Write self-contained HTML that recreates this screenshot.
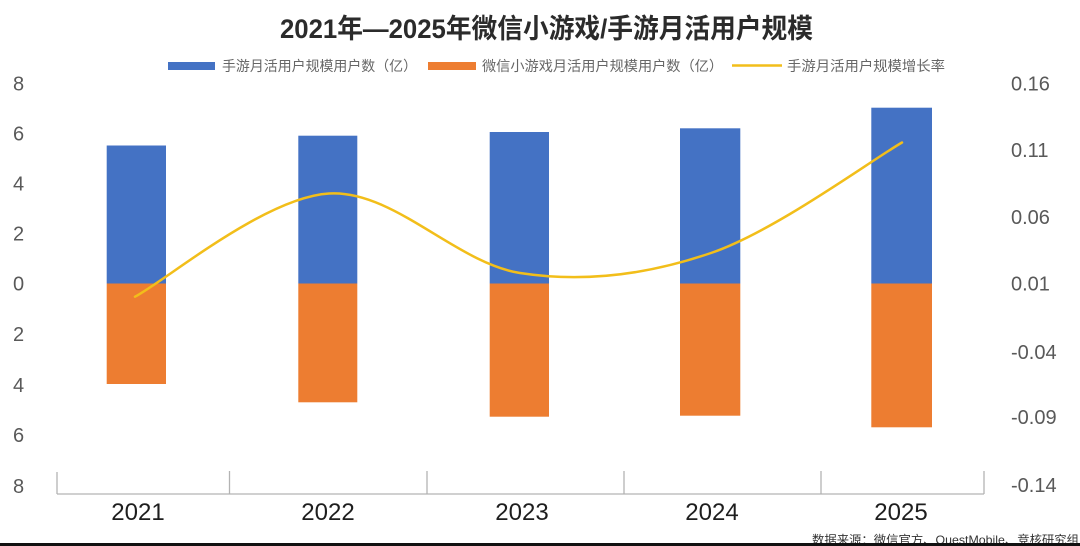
<!DOCTYPE html>
<html>
<head>
<meta charset="utf-8">
<style>
html,body{margin:0;padding:0;background:#fff;}
body{width:1080px;height:546px;overflow:hidden;}
svg{display:block;}
</style>
</head>
<body>
<svg width="1080" height="546" viewBox="0 0 1080 546" xmlns="http://www.w3.org/2000/svg">
<rect x="0" y="0" width="1080" height="546" fill="#ffffff"/>

<!-- Title -->
<text x="280" y="38" font-family="'Liberation Sans','Noto Sans CJK SC',sans-serif" font-size="27" font-weight="bold" fill="#2b2b2b" textLength="533" lengthAdjust="spacingAndGlyphs">2021年—2025年微信小游戏/手游月活用户规模</text>

<!-- Legend -->
<rect x="168" y="62" width="47" height="8" fill="#4472C4"/>
<text x="222" y="71" font-family="'Liberation Sans','Noto Sans CJK SC',sans-serif" font-size="14" fill="#666" textLength="195" lengthAdjust="spacingAndGlyphs">手游月活用户规模用户数（亿）</text>
<rect x="428" y="62" width="48" height="8" fill="#ED7D31"/>
<text x="482" y="71" font-family="'Liberation Sans','Noto Sans CJK SC',sans-serif" font-size="14" fill="#666" textLength="241" lengthAdjust="spacingAndGlyphs">微信小游戏月活用户规模用户数（亿）</text>
<line x1="732" y1="65.5" x2="782" y2="65.5" stroke="#F2BE1A" stroke-width="2.5"/>
<text x="787" y="71" font-family="'Liberation Sans','Noto Sans CJK SC',sans-serif" font-size="14" fill="#666" textLength="158" lengthAdjust="spacingAndGlyphs">手游月活用户规模增长率</text>

<!-- Left axis labels -->
<g font-family="'Liberation Sans',sans-serif" font-size="20" fill="#595959">
<text x="13" y="90.5">8</text>
<text x="13" y="140.5">6</text>
<text x="13" y="190.5">4</text>
<text x="13" y="240.5">2</text>
<text x="13" y="290.5">0</text>
<text x="13" y="341">2</text>
<text x="13" y="392">4</text>
<text x="13" y="442">6</text>
<text x="13" y="493">8</text>
</g>

<!-- Right axis labels -->
<g font-family="'Liberation Sans',sans-serif" font-size="20" fill="#595959">
<text x="1011" y="90.5">0.16</text>
<text x="1011" y="157">0.11</text>
<text x="1011" y="224">0.06</text>
<text x="1011" y="290.5">0.01</text>
<text x="1011" y="359">-0.04</text>
<text x="1011" y="424">-0.09</text>
<text x="1011" y="492">-0.14</text>
</g>

<!-- Bars: blue (positive) -->
<g fill="#4472C4">
<rect x="106.7" y="145.5" width="59.3" height="138"/>
<rect x="298.3" y="135.7" width="59" height="147.8"/>
<rect x="489.7" y="132" width="59.3" height="151.5"/>
<rect x="680" y="128.3" width="60.3" height="155.2"/>
<rect x="871.3" y="107.7" width="60.7" height="175.8"/>
</g>
<!-- Bars: orange (negative) -->
<g fill="#ED7D31">
<rect x="106.7" y="283.5" width="59.3" height="100.5"/>
<rect x="298.3" y="283.5" width="59" height="118.8"/>
<rect x="489.7" y="283.5" width="59.3" height="133.2"/>
<rect x="680" y="283.5" width="60.3" height="132.2"/>
<rect x="871.3" y="283.5" width="60.7" height="143.8"/>
</g>

<!-- Growth line -->
<path d="M135,296.7 C167.3,279.5 264.8,197.4 329,193.5 C393.2,189.5 456.3,263.1 520,273 C583.7,282.9 647.3,274.8 711,253 C774.7,231.3 870.2,160.9 902,142.5"
 fill="none" stroke="#F2BE1A" stroke-width="2.5" stroke-linecap="round"/>

<!-- X axis -->
<g stroke="#b3b3b3" stroke-width="1.3" fill="none">
<line x1="57" y1="494" x2="984" y2="494"/>
<line x1="57" y1="472" x2="57" y2="494"/>
<line x1="229.5" y1="471" x2="229.5" y2="494"/>
<line x1="427" y1="471" x2="427" y2="494"/>
<line x1="624" y1="471" x2="624" y2="494"/>
<line x1="821" y1="471" x2="821" y2="494"/>
<line x1="984" y1="471" x2="984" y2="494"/>
</g>
<g font-family="'Liberation Sans',sans-serif" font-size="24" fill="#1e1e1e" text-anchor="middle">
<text x="138" y="520">2021</text>
<text x="328" y="520">2022</text>
<text x="522" y="520">2023</text>
<text x="712" y="520">2024</text>
<text x="901" y="520">2025</text>
</g>

<!-- Source -->
<text x="812" y="544" font-family="'Liberation Sans','Noto Sans CJK SC',sans-serif" font-size="12" fill="#333" textLength="267" lengthAdjust="spacingAndGlyphs">数据来源：微信官方、QuestMobile、竞核研究组</text>

<!-- bottom black bar -->
<rect x="0" y="543" width="1080" height="3" fill="#111"/>
</svg>
</body>
</html>
